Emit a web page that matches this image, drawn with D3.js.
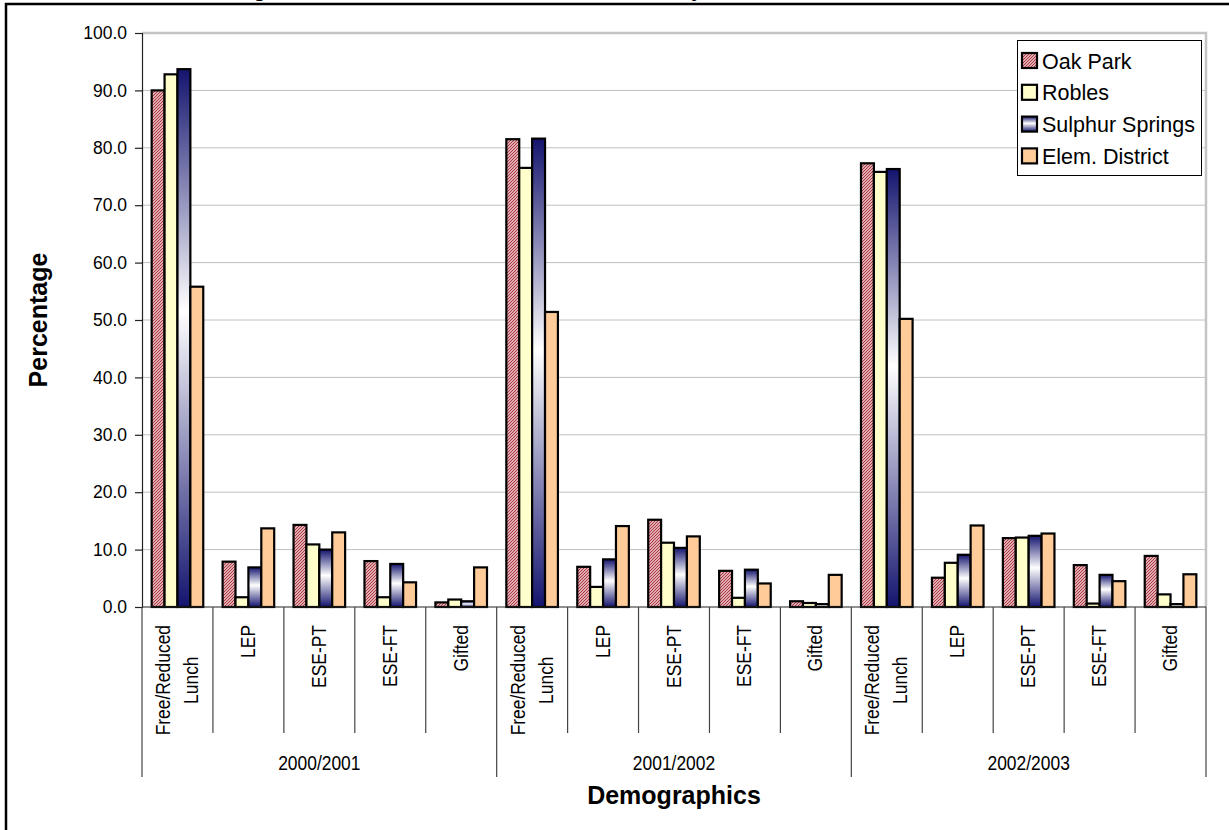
<!DOCTYPE html>
<html>
<head>
<meta charset="utf-8">
<script src="https://cdn.jsdelivr.net/npm/d3@7"></script>
<style>
  html, body { margin: 0; padding: 0; background: #ffffff; overflow: hidden; }
  svg { display: block; }
  text { font-family: "Liberation Sans", Arial, Helvetica, sans-serif; fill: #000; }
</style>
</head>
<body>
<svg id="chart" width="1229" height="830"></svg>
<script>
// ---- data -------------------------------------------------------------
const years = ["2000/2001", "2001/2002", "2002/2003"];
const areas = ["Free/Reduced\nLunch", "LEP", "ESE-PT", "ESE-FT", "Gifted"];
const seriesNames = ["Oak Park", "Robles", "Sulphur Springs", "Elem. District"];

const oakPark        = [90.0, 7.9, 14.3, 8.0, 0.8,  81.5, 7.0, 15.2, 6.3, 1.0,  77.3, 5.1, 12.0, 7.3, 8.9];
const robles         = [92.8, 1.7, 10.9, 1.7, 1.3,  76.5, 3.5, 11.2, 1.6, 0.7,  75.8, 7.7, 12.1, 0.6, 2.2];
const sulphurSprings = [93.7, 6.9, 10.0, 7.5, 1.0,  81.6, 8.3, 10.3, 6.5, 0.5,  76.3, 9.1, 12.4, 5.6, 0.5];
const elemDistrict   = [55.8, 13.7, 13.0, 4.3, 6.9, 51.4, 14.1, 12.3, 4.1, 5.6, 50.2, 14.2, 12.8, 4.5, 5.7];

const yTicks = [0, 10, 20, 30, 40, 50, 60, 70, 80, 90, 100];

const titleText = "Percentage of Students in Each Area for Schools by Year";
const yTitle = "Percentage";
const xTitle = "Demographics";

// ---- build rows ---------------------------------------------------------
const seriesValues = [oakPark, robles, sulphurSprings, elemDistrict];
const categories = [];
years.forEach((yr, yi) => areas.forEach((a, ai) => categories.push({ key: yr + "|" + ai, year: yr, label: a, idx: yi * areas.length + ai })));

// ---- layout -------------------------------------------------------------
const svg = d3.select("#chart");
const plot = { left: 142, right: 1206, top: 33, bottom: 607 };

const x0 = d3.scaleBand().domain(categories.map(c => c.key)).range([plot.left, plot.right]).padding(0);
const gapRatio = 1.5;
const barW = x0.bandwidth() / (seriesNames.length + gapRatio);
const x1 = d3.scaleBand().domain(seriesNames)
  .range([barW * gapRatio / 2, x0.bandwidth() - barW * gapRatio / 2]).padding(0);
const y = d3.scaleLinear().domain([0, 100]).range([plot.bottom, plot.top]);

// ---- fills --------------------------------------------------------------
const defs = svg.append("defs");
const hatch = defs.append("pattern").attr("id", "hatch-oak")
  .attr("patternUnits", "userSpaceOnUse").attr("width", 3).attr("height", 3);
hatch.append("rect").attr("width", 3).attr("height", 3).attr("fill", "#f6dede");
hatch.append("path").attr("d", "M-1,1 L1,-1 M0,3 L3,0 M2,4 L4,2")
  .attr("stroke", "#a9303f").attr("stroke-width", 1.1);

const grad = defs.append("linearGradient").attr("id", "grad-ss")
  .attr("x1", 0).attr("y1", 0).attr("x2", 0).attr("y2", 1);
grad.append("stop").attr("offset", "0%").attr("stop-color", "#14146f");
grad.append("stop").attr("offset", "45%").attr("stop-color", "#ffffff");
grad.append("stop").attr("offset", "100%").attr("stop-color", "#14146f");

const fills = {
  "Oak Park": "url(#hatch-oak)",
  "Robles": "#ffffcc",
  "Sulphur Springs": "url(#grad-ss)",
  "Elem. District": "#ffcc99"
};

// ---- outer frame & title -----------------------------------------------
svg.append("rect").attr("x", 6).attr("y", 4).attr("width", 1260).attr("height", 860)
  .attr("fill", "#ffffff").attr("stroke", "#000").attr("stroke-width", 2.5);

svg.append("text").attr("x", 160).attr("y", -4)
  .attr("font-size", 22).attr("font-weight", "bold").text(titleText);

// ---- gridlines & plot border -------------------------------------------
svg.append("g").selectAll("line").data(yTicks.filter(t => t > 0)).join("line")
  .attr("x1", plot.left).attr("x2", plot.right)
  .attr("y1", d => y(d)).attr("y2", d => y(d))
  .attr("stroke", "#c0c0c0").attr("stroke-width", 1);

svg.append("path")
  .attr("d", `M${plot.left},${y(100)} H${plot.right} V${y(0)}`)
  .attr("fill", "none").attr("stroke", "#c4c4c4").attr("stroke-width", 2.5);

// ---- bars ---------------------------------------------------------------
const barG = svg.append("g");
seriesNames.forEach((name, si) => {
  barG.append("g").selectAll("rect").data(categories).join("rect")
    .attr("x", c => x0(c.key) + x1(name))
    .attr("width", x1.bandwidth())
    .attr("y", c => y(seriesValues[si][c.idx]))
    .attr("height", c => y(0) - y(seriesValues[si][c.idx]))
    .attr("fill", fills[name])
    .attr("stroke", "#000").attr("stroke-width", 2.2);
});

// ---- y axis -------------------------------------------------------------
const yAxis = svg.append("g").attr("transform", `translate(${plot.left},0)`)
  .call(d3.axisLeft(y).tickValues(yTicks).tickFormat(d3.format(".1f")).tickSize(7).tickPadding(8));
yAxis.select(".domain").attr("stroke", "#222").attr("stroke-width", 1.2);
yAxis.selectAll(".tick line").attr("stroke", "#222").attr("stroke-width", 1.2);
yAxis.selectAll(".tick text").attr("font-size", 17.5)
  .attr("font-family", "'Liberation Sans', Arial, sans-serif").attr("fill", "#000");

// ---- category axis ------------------------------------------------------
const xAxisG = svg.append("g");
xAxisG.append("line").attr("x1", plot.left).attr("x2", plot.right)
  .attr("y1", y(0)).attr("y2", y(0)).attr("stroke", "#222").attr("stroke-width", 1.2);

// separators between areas
const bounds = categories.map(c => x0(c.key)).concat([plot.right]);
xAxisG.selectAll("line.sep").data(bounds).join("line").attr("class", "sep")
  .attr("x1", d => d).attr("x2", d => d)
  .attr("y1", y(0))
  .attr("y2", (d, i) => (i % areas.length === 0) ? 777 : 733)
  .attr("stroke", "#444").attr("stroke-width", 1.2);

const narrow = 0.83;
const labelTop = 625;
const lineGap = 28;
categories.forEach(c => {
  const cx = x0(c.key) + x0.bandwidth() / 2;
  const lines = c.label.split("\n");
  const g = xAxisG.append("g")
    .attr("transform", `translate(${cx},${labelTop}) rotate(-90) scale(${narrow},1)`);
  const ts = lines.map((ln, i) => g.append("text")
    .attr("font-size", 21)
    .attr("y", 6.5 + (i - (lines.length - 1) / 2) * lineGap)
    .text(ln));
  const maxLen = d3.max(ts, t => t.node().getComputedTextLength());
  ts.forEach(t => t.attr("text-anchor", "middle").attr("x", -maxLen / 2));
});

// year labels
years.forEach((yr, yi) => {
  const a = x0(yr + "|0");
  const b = x0(yr + "|" + (areas.length - 1)) + x0.bandwidth();
  xAxisG.append("text")
    .attr("transform", `translate(${(a + b) / 2},770) scale(${narrow},1)`)
    .attr("text-anchor", "middle").attr("font-size", 21).text(yr);
});

// ---- axis titles --------------------------------------------------------
svg.append("text")
  .attr("transform", `translate(47,${(plot.top + plot.bottom) / 2}) rotate(-90)`)
  .attr("text-anchor", "middle").attr("font-size", 25).attr("font-weight", "bold").text(yTitle);

svg.append("text")
  .attr("x", (plot.left + plot.right) / 2).attr("y", 804)
  .attr("text-anchor", "middle").attr("font-size", 25).attr("font-weight", "bold").text(xTitle);

// ---- legend -------------------------------------------------------------
const lg = svg.append("g");
lg.append("rect").attr("x", 1017.5).attr("y", 40.5).attr("width", 184).attr("height", 135)
  .attr("fill", "#fff").attr("stroke", "#000").attr("stroke-width", 1);
seriesNames.forEach((name, i) => {
  const cy = 60.5 + i * 31.8;
  lg.append("rect").attr("x", 1022).attr("y", cy - 7.5).attr("width", 15).attr("height", 15)
    .attr("fill", fills[name]).attr("stroke", "#000").attr("stroke-width", 2.2);
  lg.append("text").attr("x", 1042).attr("y", cy + 8).attr("font-size", 21.5).text(name);
});
</script>
</body>
</html>
